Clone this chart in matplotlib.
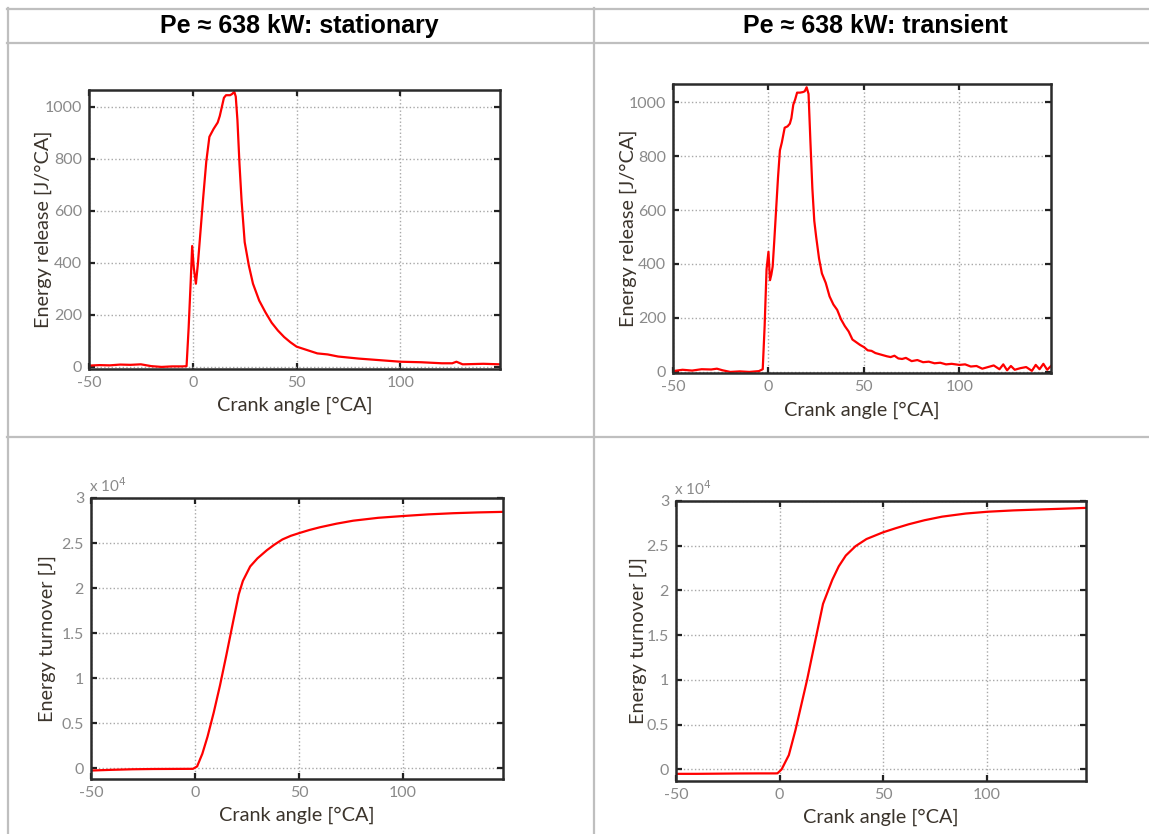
import matplotlib
matplotlib.use("Agg")
import matplotlib.pyplot as plt
from matplotlib.lines import Line2D
from matplotlib.ticker import FuncFormatter

plt.rcParams["axes.unicode_minus"] = False

W, H = 1149, 834

# --- data ---
headers = ["Pe \u2248 638 kW: stationary", "Pe \u2248 638 kW: transient"]

stat_rel_x = [-50, -45, -40, -35, -30, -25, -20, -15, -10, -5, -3, -2, -1, -0.3, 0.5, 1.5, 2.5, 3.5,
              5, 6.5, 8, 10, 12, 13, 14, 15, 16, 18, 19, 20, 20.7, 21.5, 22.5, 23.5, 25, 27, 29, 32, 35, 38,
              41, 44, 47, 50, 55, 60, 65, 70, 75, 80, 90, 100, 110, 120, 125, 127, 130, 140, 148]
stat_rel_y = [5, 7, 6, 9, 8, 10, 3, 0, 2, 2, 3, 150, 330, 465, 380, 320, 400, 500,
              650, 790, 885, 915, 940, 965, 1000, 1035, 1045, 1045, 1050, 1058, 1040, 950, 780, 640, 480, 390, 320,
              255, 210, 170, 140, 115, 95, 78, 65, 52, 48, 40, 36, 32, 26, 20, 18, 14, 14, 20, 10, 12, 10]

trans_rel_x = [-50, -45, -40, -35, -30, -27, -24, -20, -15, -10, -5, -3, -2, -1, 0, 0.8, 1.5, 2.2, 3, 4,
               5, 6, 7, 8.5, 10, 11.2, 12, 13, 14, 15, 16.5, 18, 19, 20, 21, 22, 23, 24, 25, 26.5,
               28, 30, 32, 34, 36, 38, 40, 42, 44, 46, 48, 50, 52, 54, 56, 58, 60, 62, 64, 66,
               68, 70, 72, 75, 78, 81, 84, 87, 90, 93, 96, 100, 103, 106, 109, 112, 115, 118, 121, 123,
               125, 127, 129, 132, 135, 138, 140, 142, 144, 146, 148]
trans_rel_y = [3, 8, 5, 10, 9, 12, 6, 0, 2, 0, 3, 10, 170, 380, 445, 340, 360, 390, 480, 600,
               720, 821, 850, 905, 910, 920, 940, 990, 1010, 1035, 1035, 1037, 1040, 1055, 1030, 850, 680, 560, 500, 420,
               365, 330, 280, 250, 230, 195, 170, 150, 120, 110, 100, 92, 80, 78, 70, 66, 62, 58, 55, 60,
               50, 48, 52, 40, 44, 36, 38, 32, 34, 28, 30, 26, 28, 20, 22, 12, 18, 24, 10, 28,
               6, 22, 8, 14, 18, 4, 26, 10, 30, 8, 22]

stat_cum_x = [-50, -40, -30, -20, -10, -1, 1, 3.5, 6, 9, 12, 15, 18.5, 21, 23, 26.5, 30, 34.5, 38,
              42, 46, 50, 55, 60, 68, 76, 88, 100, 112, 124, 136, 148]
stat_cum_y = [-260, -180, -120, -90, -80, -70, 200, 1600, 3500, 6200, 9200, 12500, 16500, 19300, 20800,
              22400, 23300, 24200, 24800, 25400, 25800, 26100, 26450, 26750, 27150, 27480, 27800, 28000,
              28180, 28310, 28400, 28460]

trans_cum_x = [-50, -40, -30, -20, -10, -2, -1, 1, 4.5, 7.7, 10.5, 13.3, 16, 19, 21, 23, 25.5, 28.6, 32,
               36.7, 42, 50, 56, 62.4, 70, 78.5, 90, 100.5, 113, 126.7, 137, 148]
trans_cum_y = [-500, -500, -480, -460, -450, -450, -440, 0, 1600, 4400, 7200, 10000, 13000, 16300, 18500,
               19700, 21200, 22700, 23900, 24950, 25750, 26500, 26950, 27400, 27850, 28250, 28600, 28800,
               28950, 29060, 29140, 29230]

x_ticks = [-50, 0, 50, 100]
rel_ticks = [0, 200, 400, 600, 800, 1000]
cum_ticks = [0, 5000, 10000, 15000, 20000, 25000, 30000]

LABEL_FONT = ["Lato", "DejaVu Sans"]
LABEL_COLOR = "#3b342c"
TICK_COLOR = "#8a8a8a"


def px_rect(x0, y0, x1, y1):
    return [x0 / W, (H - y1) / H, (x1 - x0) / W, (y1 - y0) / H]


def style_axes(ax, ylabel, ylim, yticks, ylab_x, xlab_y, yfmt=None):
    ax.set_xlim(-50, 148)
    ax.set_ylim(*ylim)
    ax.set_xticks(x_ticks)
    ax.set_yticks(yticks)
    if yfmt is not None:
        ax.yaxis.set_major_formatter(yfmt)
    ax.grid(True, linestyle=":", color="#a8a8a8", linewidth=1.0)
    ax.tick_params(direction="in", top=True, right=True, length=4, width=1.6,
                   color="#222222", labelcolor=TICK_COLOR, labelsize=11.5, pad=5)
    for lab in ax.get_xticklabels() + ax.get_yticklabels():
        lab.set_family(LABEL_FONT)
    for sp in ax.spines.values():
        sp.set_linewidth(1.8)
        sp.set_color("#2b2b2b")
    ax.set_xlabel("Crank angle [\u00b0CA]", family=LABEL_FONT, fontsize=14.3, color=LABEL_COLOR)
    ax.set_ylabel(ylabel, family=LABEL_FONT, fontsize=14.3, color=LABEL_COLOR)
    ax.xaxis.label.set_va("center")
    ax.yaxis.label.set_va("center")
    ax.xaxis.set_label_coords(0.5, xlab_y)
    ax.yaxis.set_label_coords(ylab_x, 0.5)


fig = plt.figure(figsize=(W / 100, H / 100), dpi=100)

# table lines
grid_color = "#bfbfbf"
def hline(y, x0, x1):
    fig.add_artist(Line2D([x0 / W, x1 / W], [1 - y / H, 1 - y / H], color=grid_color, lw=1.6,
                          transform=fig.transFigure))
def vline(x, y0, y1):
    fig.add_artist(Line2D([x / W, x / W], [1 - y0 / H, 1 - y1 / H], color=grid_color, lw=1.6,
                          transform=fig.transFigure))

hline(8.5, 7, W)
hline(42.5, 7, W)
hline(437.5, 7, W)
vline(7.5, 8, H)
vline(594, 8, H)

fig.text(299 / W, 1 - 26 / H, headers[0], ha="center", va="center", fontsize=18,
         fontweight="bold", family="Liberation Sans")
fig.text(875 / W, 1 - 26 / H, headers[1], ha="center", va="center", fontsize=18,
         fontweight="bold", family="Liberation Sans")

cum_fmt = FuncFormatter(lambda v, p: f"{v / 1e4:g}")

ax1 = fig.add_axes(px_rect(89, 90, 500, 369))
ax1.plot(stat_rel_x, stat_rel_y, color="red", lw=1.6)
style_axes(ax1, "Energy release [J/\u00b0CA]", (-8, 1065), rel_ticks, -0.112, -0.129)

ax2 = fig.add_axes(px_rect(673, 84, 1051, 373))
ax2.plot(trans_rel_x, trans_rel_y, color="red", lw=1.6)
style_axes(ax2, "Energy release [J/\u00b0CA]", (-4, 1067), rel_ticks, -0.119, -0.128)

ax3 = fig.add_axes(px_rect(91, 498, 503, 779))
ax3.plot(stat_cum_x, stat_cum_y, color="red", lw=1.6)
style_axes(ax3, "Energy turnover [J]", (-1200, 30000), cum_ticks, -0.107, -0.128, cum_fmt)

ax4 = fig.add_axes(px_rect(676, 501, 1086, 781))
ax4.plot(trans_cum_x, trans_cum_y, color="red", lw=1.6)
style_axes(ax4, "Energy turnover [J]", (-1300, 30000), cum_ticks, -0.093, -0.128, cum_fmt)

for ax in (ax3, ax4):
    ax.text(-0.005, 1.01, "x 10$^4$", transform=ax.transAxes, ha="left", va="bottom",
            color=TICK_COLOR, fontsize=11, family=LABEL_FONT)

fig.savefig("out.png", dpi=100)
